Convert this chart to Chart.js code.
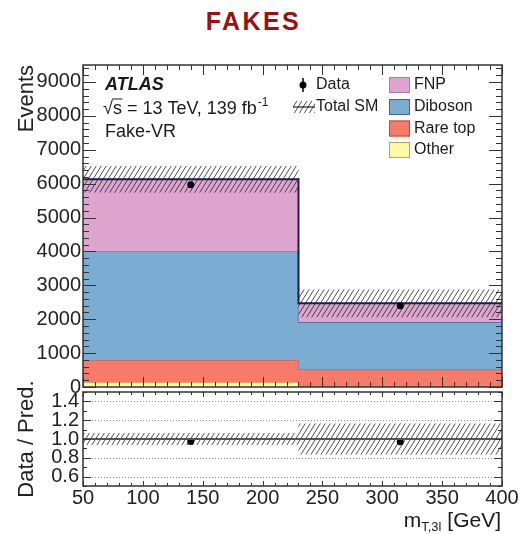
<!DOCTYPE html>
<html>
<head>
<meta charset="utf-8">
<script src="https://cdn.jsdelivr.net/npm/chart.js@4/dist/chart.umd.min.js"></script>
<style>
  html, body { margin: 0; padding: 0; background: #fff; }
  #wrap { position: relative; width: 520px; height: 534px; overflow: hidden; }
  #title {
    position: absolute; left: 0; top: 9px; width: 502px; padding-left: 2.4px;
    text-align: center; font: bold 25px/25px "Liberation Sans", Arial, sans-serif;
    letter-spacing: 2.4px; color: #9b1010;
  }
  canvas { position: absolute; left: 0; top: 0; }
</style>
</head>
<body>
<div id="wrap">
  <div id="title">FAKES</div>
  <canvas id="main" width="520" height="534"></canvas>
  <canvas id="ratio" width="520" height="534"></canvas>
</div>
<script>
// m_T,3l binning [GeV]
const binEdges = [50, 230, 400];

// Stacked background yields per bin
const otherYield   = [140, 15];
const rareTopYield = [660, 500];
const dibosonYield = [3200, 1400];
const fnpYield     = [2130, 555];

// Total SM uncertainty per bin
const totalUnc = [390, 410];

// Observed events per bin
const dataYield = [5970, 2400];

// Axis tick values
const eventTicks = [0, 1000, 2000, 3000, 4000, 5000, 6000, 7000, 8000, 9000];
const massTicks  = [50, 100, 150, 200, 250, 300, 350, 400];
const ratioTicks = [0.6, 0.8, 1.0, 1.2, 1.4];

const FONT = '"Liberation Sans", Arial, sans-serif';
Chart.defaults.font.family = FONT;
Chart.defaults.color = '#222';

// cumulative stack boundaries: other, +rare top, +diboson, +FNP
const layers = [otherYield, rareTopYield, dibosonYield, fnpYield];
const stackTops = [];
let running = binEdges.slice(1).map(() => 0);
layers.forEach(l => { running = running.map((v, i) => v + l[i]); stackTops.push(running); });
const totalSM = stackTops[stackTops.length - 1];

const binCentres = binEdges.slice(1).map((e, i) => (binEdges[i] + e) / 2);

// histogram outline points for stepped lines
function stepPts(vals) {
  const pts = vals.map((v, i) => ({ x: binEdges[i], y: v }));
  pts.push({ x: binEdges[binEdges.length - 1], y: vals[vals.length - 1] });
  return pts;
}

// diagonal hatch used for the uncertainty bands
function makeHatch() {
  const w = 5, h = 8;
  const c = document.createElement('canvas');
  c.width = w; c.height = h;
  const g = c.getContext('2d');
  g.strokeStyle = 'rgba(45,45,45,0.85)';
  g.lineWidth = 1;
  g.beginPath();
  for (const dx of [-w, 0, w]) { g.moveTo(dx, h); g.lineTo(dx + w, 0); }
  g.stroke();
  return g.createPattern(c, 'repeat');
}
const hatch = makeHatch();
const NONE = 'rgba(0,0,0,0)';

const colors = {
  FNP:       { fill: '#dea5cf', edge: '#b07aa3' },
  Diboson:   { fill: '#7badd3', edge: '#3f6690' },
  'Rare top':{ fill: '#f67b69', edge: '#c2483a' },
  Other:     { fill: '#fcf9a8', edge: '#b9a64a' }
};

// inward ATLAS-style ticks on all four sides plus frame
function frameTicks(cfg) {
  return {
    id: 'frameTicks',
    afterDraw(chart) {
      const { ctx, chartArea: a, scales: { x, y } } = chart;
      ctx.save();
      ctx.strokeStyle = '#333';
      ctx.lineWidth = 1;
      ctx.beginPath();
      const isMajor = (v, o, s) => Math.abs((v - o) / s - Math.round((v - o) / s)) < 1e-6;
      for (let i = 0; ; i++) {
        const v = x.min + i * cfg.xMinor;
        if (v > x.max + 1e-9) break;
        const px = Math.round(x.getPixelForValue(v)) + 0.5;
        const len = isMajor(v, cfg.xOrigin, cfg.xMajor) ? cfg.xMajorLen : cfg.xMinorLen;
        ctx.moveTo(px, a.bottom); ctx.lineTo(px, a.bottom - len);
        ctx.moveTo(px, a.top); ctx.lineTo(px, a.top + len);
      }
      for (let i = 0; ; i++) {
        const v = y.min + i * cfg.yMinor;
        if (v > y.max + 1e-9) break;
        const py = Math.round(y.getPixelForValue(v)) + 0.5;
        const len = isMajor(v, cfg.yOrigin, cfg.yMajor) ? cfg.yMajorLen : cfg.yMinorLen;
        ctx.moveTo(a.left, py); ctx.lineTo(a.left + len, py);
        ctx.moveTo(a.right, py); ctx.lineTo(a.right - len, py);
      }
      ctx.stroke();
      ctx.lineWidth = 1.5;
      ctx.strokeRect(a.left, a.top, a.right - a.left, a.bottom - a.top);
      ctx.restore();
    }
  };
}

// labels and legend inside the main panel
const mainLabels = {
  id: 'mainLabels',
  afterDraw(chart) {
    const ctx = chart.ctx;
    ctx.save();
    ctx.fillStyle = '#1a1a1a';
    ctx.textBaseline = 'alphabetic';
    ctx.font = 'italic bold 18px ' + FONT;
    ctx.fillText('ATLAS', 105, 89.5);

    ctx.font = '18px ' + FONT;
    const root = '\u221A', s = 's';
    const x0 = 103, base = 113.5;
    ctx.fillText(root, x0, base);
    const wr = ctx.measureText(root).width;
    ctx.fillText(s, x0 + wr, base);
    const ws = ctx.measureText(s).width;
    ctx.strokeStyle = '#1a1a1a';
    ctx.lineWidth = 1;
    ctx.beginPath();
    ctx.moveTo(x0 + wr - 1, base - 14.5);
    ctx.lineTo(x0 + wr + ws + 0.5, base - 14.5);
    ctx.stroke();
    const rest = ' = 13 TeV, 139 fb';
    ctx.fillText(rest, x0 + wr + ws, base);
    const wrest = ctx.measureText(rest).width;
    ctx.font = '12px ' + FONT;
    ctx.fillText('-1', x0 + wr + ws + wrest + 1, base - 8);

    ctx.font = '18px ' + FONT;
    ctx.fillText('Fake-VR', 105, 136.5);

    // legend, left column
    ctx.font = '16px ' + FONT;
    ctx.textBaseline = 'middle';
    ctx.strokeStyle = '#000';
    ctx.lineWidth = 1.5;
    ctx.beginPath(); ctx.moveTo(303, 78); ctx.lineTo(303, 92); ctx.stroke();
    ctx.fillStyle = '#000';
    ctx.beginPath(); ctx.arc(303, 85, 3.5, 0, Math.PI * 2); ctx.fill();
    ctx.fillStyle = '#1a1a1a';
    ctx.fillText('Data', 316, 85);

    ctx.fillStyle = hatch;
    ctx.fillRect(293, 101, 22, 12);
    ctx.strokeStyle = '#1d1d4f';
    ctx.lineWidth = 1.2;
    ctx.beginPath(); ctx.moveTo(293, 107); ctx.lineTo(315, 107); ctx.stroke();
    ctx.fillStyle = '#1a1a1a';
    ctx.fillText('Total SM', 316, 107);

    // legend, right column
    const rows = ['FNP', 'Diboson', 'Rare top', 'Other'];
    const rowY = [85, 107, 128.5, 150];
    rows.forEach((name, i) => {
      ctx.fillStyle = colors[name].fill;
      ctx.fillRect(389, rowY[i] - 8, 21, 16);
      ctx.strokeStyle = colors[name].edge;
      ctx.lineWidth = 1;
      ctx.strokeRect(389.5, rowY[i] - 7.5, 20, 15);
      ctx.fillStyle = '#1a1a1a';
      ctx.fillText(name, 414, rowY[i]);
    });
    ctx.restore();
  }
};

new Chart(document.getElementById('main'), {
  type: 'line',
  data: {
    datasets: [
      { label: 'Other', data: stepPts(stackTops[0]), stepped: true, fill: 'origin',
        backgroundColor: colors.Other.fill, borderColor: colors.Other.edge, borderWidth: 1, order: 7 },
      { label: 'Rare top', data: stepPts(stackTops[1]), stepped: true, fill: '-1',
        backgroundColor: colors['Rare top'].fill, borderColor: colors['Rare top'].edge, borderWidth: 1, order: 6 },
      { label: 'Diboson', data: stepPts(stackTops[2]), stepped: true, fill: '-1',
        backgroundColor: colors.Diboson.fill, borderColor: colors.Diboson.edge, borderWidth: 1.2, order: 5 },
      { label: 'FNP', data: stepPts(stackTops[3]), stepped: true, fill: '-1',
        backgroundColor: colors.FNP.fill, borderColor: NONE, borderWidth: 1, order: 4 },
      { label: 'Total SM low', data: stepPts(totalSM.map((v, i) => v - totalUnc[i])), stepped: true,
        fill: false, borderColor: NONE, borderWidth: 1, order: 3 },
      { label: 'Total SM', data: stepPts(totalSM.map((v, i) => v + totalUnc[i])), stepped: true,
        fill: '-1', backgroundColor: hatch, borderColor: NONE, borderWidth: 1, order: 2 },
      { label: 'Total SM line', data: stepPts(totalSM), stepped: true, fill: false,
        borderColor: '#1d1d4f', borderWidth: 2, order: 1 },
      { label: 'Data', data: dataYield.map((v, i) => ({ x: binCentres[i], y: v })), showLine: false,
        pointRadius: 3.5, pointBackgroundColor: '#000', pointBorderWidth: 0, order: 0 }
    ]
  },
  options: {
    responsive: false, animation: false, events: [],
    layout: { padding: { top: 65, bottom: 147, left: 0, right: 18 } },
    plugins: { legend: { display: false }, tooltip: { enabled: false } },
    elements: { point: { radius: 0 }, line: { tension: 0 } },
    scales: {
      x: {
        type: 'linear', min: binEdges[0], max: binEdges[binEdges.length - 1],
        afterFit: s => { s.height = 0; },
        grid: { display: false, drawTicks: false }, border: { display: false },
        ticks: { display: false }
      },
      y: {
        type: 'linear', min: 0, max: 9500,
        afterBuildTicks: s => { s.ticks = eventTicks.map(v => ({ value: v })); },
        afterFit: s => { s.width = 83; },
        grid: { display: false, drawTicks: false }, border: { display: false },
        ticks: { padding: 2, font: { size: 20 }, color: '#222', autoSkip: false, callback: v => String(v) },
        title: { display: true, text: 'Events', align: 'end', color: '#222',
                 font: { size: 22 }, padding: { top: 14, bottom: 0 } }
      }
    }
  },
  plugins: [
    frameTicks({ xOrigin: 50, xMajor: 50, xMinor: 10, xMajorLen: 10, xMinorLen: 5,
                 yOrigin: 0, yMajor: 1000, yMinor: 200, yMajorLen: 13, yMinorLen: 6 }),
    mainLabels
  ]
});

// ratio panel
const relUnc = totalUnc.map((u, i) => u / totalSM[i]);
const ratioVals = dataYield.map((d, i) => d / totalSM[i]);

const ratioGrid = {
  id: 'ratioGrid',
  beforeDatasetsDraw(chart) {
    const { ctx, chartArea: a, scales: { y } } = chart;
    ctx.save();
    ctx.strokeStyle = '#8a8a8a';
    ctx.lineWidth = 1;
    ctx.setLineDash([1, 2]);
    ratioTicks.filter(v => Math.abs(v - 1) > 1e-6).forEach(v => {
      const py = Math.round(y.getPixelForValue(v)) + 0.5;
      ctx.beginPath(); ctx.moveTo(a.left, py); ctx.lineTo(a.right, py); ctx.stroke();
    });
    ctx.restore();
  },
  afterDatasetsDraw(chart) {
    const { ctx, chartArea: a, scales: { y } } = chart;
    const py = y.getPixelForValue(1);
    ctx.save();
    ctx.strokeStyle = '#555';
    ctx.lineWidth = 2;
    ctx.beginPath(); ctx.moveTo(a.left, py); ctx.lineTo(a.right, py); ctx.stroke();
    ctx.restore();
  },
  afterDraw(chart) {
    const { ctx, chartArea: a } = chart;
    ctx.save();
    ctx.fillStyle = '#1a1a1a';
    ctx.textBaseline = 'alphabetic';
    const base = 526.5;
    const main = 'm', sub = 'T,3l', tail = ' [GeV]';
    ctx.font = '21px ' + FONT;
    const wm = ctx.measureText(main).width, wt = ctx.measureText(tail).width;
    ctx.font = '13px ' + FONT;
    const wsub = ctx.measureText(sub).width;
    let xs = a.right - 1 - (wm + wsub + wt);
    ctx.font = '21px ' + FONT;
    ctx.fillText(main, xs, base);
    ctx.font = '13px ' + FONT;
    ctx.fillText(sub, xs + wm, base + 4);
    ctx.font = '21px ' + FONT;
    ctx.fillText(tail, xs + wm + wsub, base);
    ctx.restore();
  }
};

new Chart(document.getElementById('ratio'), {
  type: 'line',
  data: {
    datasets: [
      { label: 'Uncertainty low', data: stepPts(relUnc.map(r => 1 - r)), stepped: true,
        fill: false, borderColor: NONE, borderWidth: 1, order: 3 },
      { label: 'Uncertainty', data: stepPts(relUnc.map(r => 1 + r)), stepped: true,
        fill: '-1', backgroundColor: hatch, borderColor: NONE, borderWidth: 1, order: 2 },
      { label: 'Data / Pred.', data: ratioVals.map((v, i) => ({ x: binCentres[i], y: v })), showLine: false,
        pointRadius: 3.5, pointBackgroundColor: '#000', pointBorderWidth: 0, order: 0 }
    ]
  },
  options: {
    responsive: false, animation: false, events: [],
    layout: { padding: { top: 392, bottom: 0, left: 0, right: 18 } },
    plugins: { legend: { display: false }, tooltip: { enabled: false } },
    elements: { point: { radius: 0 }, line: { tension: 0 } },
    scales: {
      x: {
        type: 'linear', min: binEdges[0], max: binEdges[binEdges.length - 1],
        afterBuildTicks: s => { s.ticks = massTicks.map(v => ({ value: v })); },
        afterFit: s => { s.height = 48; },
        grid: { display: false, drawTicks: false }, border: { display: false },
        ticks: { padding: 0, font: { size: 20 }, color: '#222', maxRotation: 0, autoSkip: false,
                 callback: v => String(v) }
      },
      y: {
        type: 'linear', min: 0.5, max: 1.5,
        afterBuildTicks: s => { s.ticks = ratioTicks.map(v => ({ value: v })); },
        afterFit: s => { s.width = 83; },
        grid: { display: false, drawTicks: false }, border: { display: false },
        ticks: { padding: 4, font: { size: 20, lineHeight: 1 }, color: '#222', autoSkip: false,
                 callback: v => v.toFixed(1) },
        title: { display: true, text: 'Data / Pred.', align: 'center', color: '#222',
                 font: { size: 22 }, padding: { top: 14, bottom: 0 } }
      }
    }
  },
  plugins: [
    ratioGrid,
    frameTicks({ xOrigin: 50, xMajor: 50, xMinor: 10, xMajorLen: 5, xMinorLen: 3,
                 yOrigin: 0.6, yMajor: 0.2, yMinor: 0.1, yMajorLen: 8, yMinorLen: 4 })
  ]
});
</script>
</body>
</html>
